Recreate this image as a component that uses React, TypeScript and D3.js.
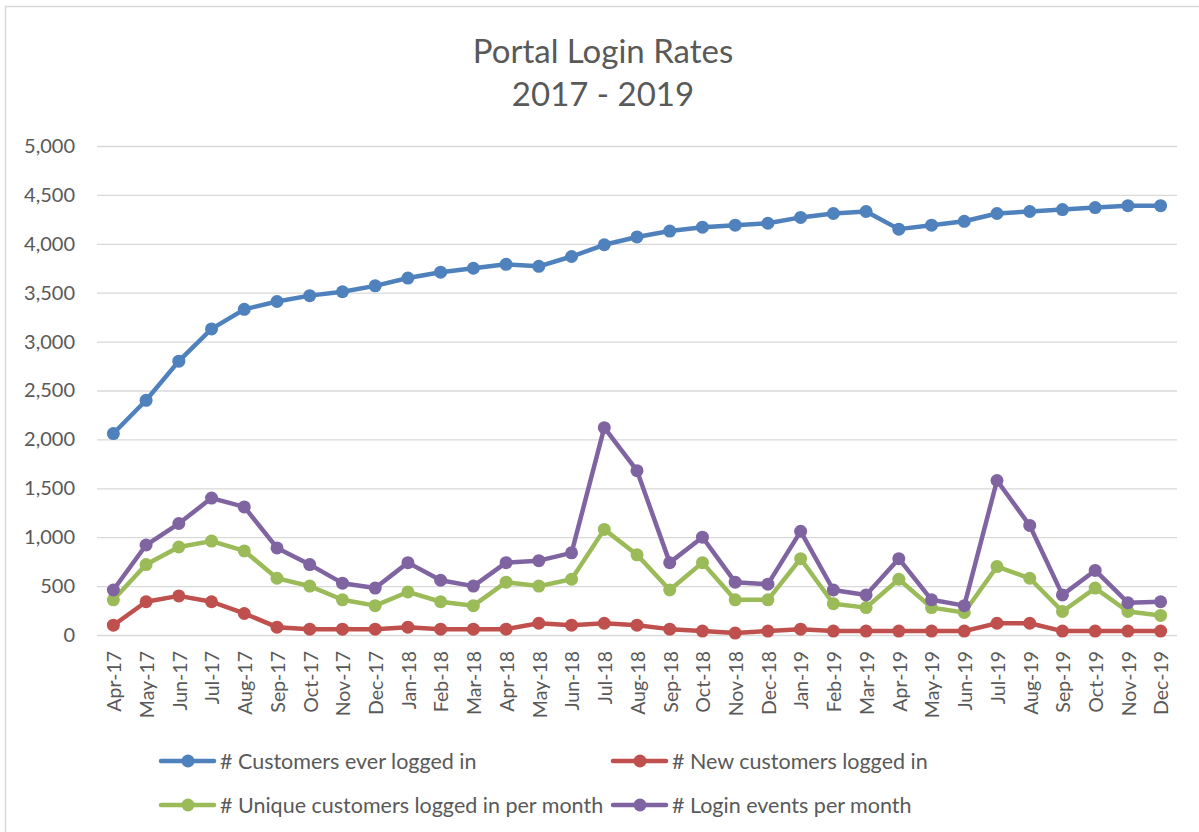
import { useEffect, useRef } from "react";
import * as d3 from "d3";

const MONTHS = [
  "Apr-17", "May-17", "Jun-17", "Jul-17", "Aug-17", "Sep-17", "Oct-17", "Nov-17", "Dec-17",
  "Jan-18", "Feb-18", "Mar-18", "Apr-18", "May-18", "Jun-18", "Jul-18", "Aug-18", "Sep-18",
  "Oct-18", "Nov-18", "Dec-18", "Jan-19", "Feb-19", "Mar-19", "Apr-19", "May-19", "Jun-19",
  "Jul-19", "Aug-19", "Sep-19", "Oct-19", "Nov-19", "Dec-19",
];

const EVER_LOGGED = [
  2060, 2400, 2800, 3130, 3330, 3410, 3470, 3510, 3570,
  3650, 3710, 3750, 3790, 3770, 3870, 3990, 4070, 4130,
  4170, 4190, 4210, 4270, 4310, 4330, 4150, 4190, 4230,
  4310, 4330, 4350, 4370, 4390, 4390,
];

const NEW_LOGGED = [
  100, 340, 400, 340, 220, 80, 60, 60, 60,
  80, 60, 60, 60, 120, 100, 120, 100, 60,
  40, 20, 40, 60, 40, 40, 40, 40, 40,
  120, 120, 40, 40, 40, 40,
];

const UNIQUE_MONTHLY = [
  360, 720, 900, 960, 860, 580, 500, 360, 300,
  440, 340, 300, 540, 500, 570, 1080, 820, 460,
  740, 360, 360, 780, 320, 280, 570, 280, 230,
  700, 580, 240, 480, 240, 200,
];

const LOGIN_EVENTS = [
  460, 920, 1140, 1400, 1310, 890, 720, 530, 480,
  740, 560, 500, 740, 760, 840, 2120, 1680, 740,
  1000, 540, 520, 1060, 460, 410, 780, 360, 300,
  1580, 1120, 410, 660, 330, 340,
];

const Y_TICKS = [0, 500, 1000, 1500, 2000, 2500, 3000, 3500, 4000, 4500, 5000];

const SERIES = [
  { name: "# Customers ever logged in", values: EVER_LOGGED, color: "#4F81BD" },
  { name: "# New customers logged in", values: NEW_LOGGED, color: "#C0504D" },
  { name: "# Unique customers logged in per month", values: UNIQUE_MONTHLY, color: "#9BBB59" },
  { name: "# Login events per month", values: LOGIN_EVENTS, color: "#8064A2" },
];

const W = 1199;
const H = 832;
const FONT = "Lato, 'Open Sans', sans-serif";
const TEXT = "#595959";

export default function App() {
  const svgRef = useRef<SVGSVGElement | null>(null);

  useEffect(() => {
    const svg = d3.select(svgRef.current);
    svg.selectAll("*").remove();

    const plot = { left: 97, right: 1177, top: 146, bottom: 635 };

    // chart frame
    svg.append("rect")
      .attr("x", 5.5).attr("y", 6.5)
      .attr("width", W).attr("height", H)
      .attr("fill", "#fff")
      .attr("stroke", "#d9d9d9")
      .attr("stroke-width", 1.5);

    // title
    const title = svg.append("text")
      .attr("text-anchor", "middle")
      .attr("font-family", FONT)
      .attr("font-size", 33)
      .attr("fill", TEXT);
    title.append("tspan").attr("x", 603).attr("y", 63).text("Portal Login Rates");
    title.append("tspan").attr("x", 603).attr("y", 106).text("2017 - 2019");

    const x = d3.scalePoint<string>()
      .domain(MONTHS)
      .range([plot.left, plot.right])
      .padding(0.5);

    const y = d3.scaleLinear()
      .domain([0, 5000])
      .range([plot.bottom, plot.top]);

    // y axis + gridlines
    const yAxis = svg.append("g")
      .attr("transform", `translate(${plot.left},0)`)
      .call(
        d3.axisLeft(y)
          .tickValues(Y_TICKS)
          .tickFormat(d3.format(",") as any)
          .tickSize(-(plot.right - plot.left))
          .tickPadding(22)
      );
    yAxis.select(".domain").remove();
    yAxis.selectAll(".tick line")
      .attr("stroke", "#d9d9d9")
      .attr("stroke-width", 1.3);
    yAxis.selectAll(".tick text")
      .attr("font-family", FONT)
      .attr("font-size", 20)
      .attr("fill", TEXT);

    // x labels, rotated
    svg.append("g")
      .selectAll("text")
      .data(MONTHS)
      .join("text")
      .attr("transform", (d) => `translate(${x(d)! + 1},${plot.bottom + 16}) rotate(-90)`)
      .attr("text-anchor", "end")
      .attr("dy", "0.35em")
      .attr("font-family", FONT)
      .attr("font-size", 19.5)
      .attr("fill", TEXT)
      .text((d) => d);

    const line = d3.line<number>()
      .x((_, i) => x(MONTHS[i])!)
      .y((d) => y(d));

    SERIES.forEach((s) => {
      const g = svg.append("g");
      g.append("path")
        .datum(s.values)
        .attr("d", line)
        .attr("fill", "none")
        .attr("stroke", s.color)
        .attr("stroke-width", 4.5)
        .attr("stroke-linejoin", "round")
        .attr("stroke-linecap", "round");
      g.selectAll("circle")
        .data(s.values)
        .join("circle")
        .attr("cx", (_, i) => x(MONTHS[i])!)
        .attr("cy", (d) => y(d))
        .attr("r", 6.5)
        .attr("fill", s.color);
    });

    // legend: two columns, two rows
    const legendPos = [
      { lx: 161, ty: 761 },
      { lx: 613, ty: 761 },
      { lx: 161, ty: 805 },
      { lx: 613, ty: 805 },
    ];
    SERIES.forEach((s, i) => {
      const p = legendPos[i];
      const g = svg.append("g");
      g.append("line")
        .attr("x1", p.lx).attr("x2", p.lx + 53)
        .attr("y1", p.ty).attr("y2", p.ty)
        .attr("stroke", s.color)
        .attr("stroke-width", 4.5)
        .attr("stroke-linecap", "round");
      g.append("circle")
        .attr("cx", p.lx + 27).attr("cy", p.ty)
        .attr("r", 6.5)
        .attr("fill", s.color);
      g.append("text")
        .attr("x", p.lx + 59).attr("y", p.ty)
        .attr("dy", "0.35em")
        .attr("font-family", FONT)
        .attr("font-size", 21.5)
        .attr("fill", TEXT)
        .text(s.name);
    });
  }, []);

  return (
    <svg
      ref={svgRef}
      width={W}
      height={H}
      style={{ position: "absolute", left: 0, top: 0, background: "#fff" }}
    />
  );
}
